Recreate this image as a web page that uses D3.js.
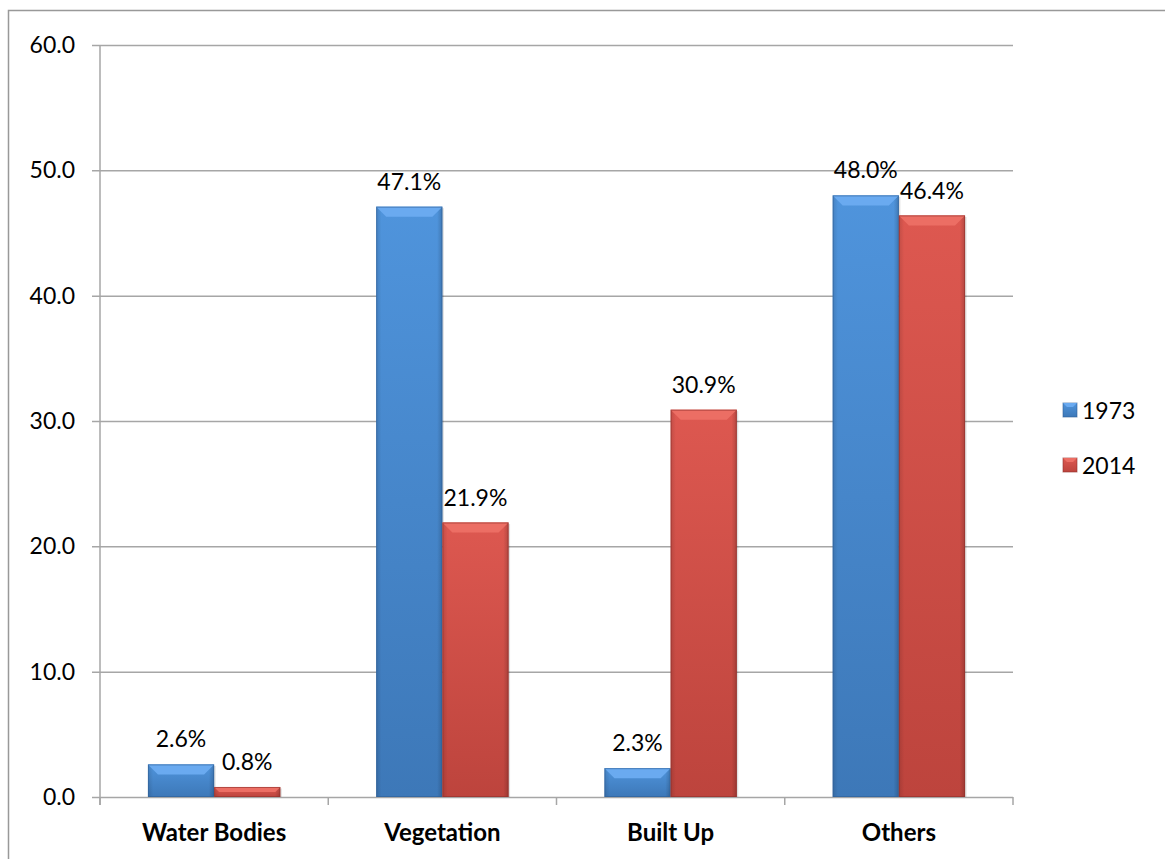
<!DOCTYPE html>
<html>
<head>
<meta charset="utf-8">
<script src="https://cdn.jsdelivr.net/npm/d3@7"></script>
<style>
    body { margin: 0; background: #fff; }
    svg text { font-family: Lato, "Open Sans", sans-serif; fill: #000; }
</style>
</head>
<body>
<div id="chart"></div>
<script>
// data
var categories = ["Water Bodies", "Vegetation", "Built Up", "Others"];
var seriesNames = ["1973", "2014"];
var values1973 = [2.6, 47.1, 2.3, 48.0];
var values2014 = [0.8, 21.9, 30.9, 46.4];
var yTicks = [0, 10, 20, 30, 40, 50, 60];

var W = 1165, H = 859;
var margin = {top: 45, left: 100, right: 152, bottom: 62};
var width = W - margin.left - margin.right;
var height = H - margin.top - margin.bottom;

var svg = d3.select("#chart").append("svg")
        .attr("width", W)
        .attr("height", H);

// outer frame (runs off the right and bottom edges)
svg.append("rect")
        .attr("x", 8.5).attr("y", 10.5)
        .attr("width", W).attr("height", H)
        .attr("fill", "none")
        .attr("stroke", "#999")
        .attr("stroke-width", 1.5);

var defs = svg.append("defs");
var palette = {
    "1973": {light: "#6aaaf0", mid: "#4f94dc", dark: "#3d78b8", edge: "#2f5f96"},
    "2014": {light: "#ec6e64", mid: "#dd5850", dark: "#bd443d", edge: "#8f302b"}
};
seriesNames.forEach(function(s) {
    var g = defs.append("linearGradient").attr("id", "grad" + s)
            .attr("x1", 0).attr("y1", 0).attr("x2", 0).attr("y2", 1);
    g.append("stop").attr("offset", "0%").attr("stop-color", palette[s].mid);
    g.append("stop").attr("offset", "100%").attr("stop-color", palette[s].dark);
    var side = defs.append("linearGradient").attr("id", "side" + s)
            .attr("x1", 0).attr("y1", 0).attr("x2", 1).attr("y2", 0);
    side.append("stop").attr("offset", "0%").attr("stop-color", "#000").attr("stop-opacity", 0.12);
    side.append("stop").attr("offset", "8%").attr("stop-color", "#000").attr("stop-opacity", 0);
    side.append("stop").attr("offset", "92%").attr("stop-color", "#000").attr("stop-opacity", 0);
    side.append("stop").attr("offset", "100%").attr("stop-color", "#000").attr("stop-opacity", 0.18);
});

var g = svg.append("g")
        .attr("transform", "translate(" + margin.left + "," + margin.top + ")");

var x0 = d3.scaleBand().domain(categories).range([0, width]).paddingInner(0).paddingOuter(0);
var x1 = d3.scaleBand().domain(seriesNames).range([x0.bandwidth() * 0.21, x0.bandwidth() * 0.79]);
var y = d3.scaleLinear().domain([0, 60]).range([height, 0]);

// gridlines
g.append("g")
        .attr("transform", "translate(-8,0)")
        .call(d3.axisLeft(y).tickValues(yTicks).tickSize(-width - 8).tickFormat(""))
        .call(function(s) {
            s.select(".domain").remove();
            s.selectAll("line").attr("stroke", "#a6a6a6").attr("stroke-width", 1.5);
        });

// y axis line
g.append("line")
        .attr("x1", 0).attr("x2", 0).attr("y1", 0).attr("y2", height + 8)
        .attr("stroke", "#a6a6a6").attr("stroke-width", 1.5);

// y tick labels
g.append("g").selectAll("text")
        .data(yTicks)
        .enter().append("text")
        .attr("x", -25)
        .attr("y", function(d) { return y(d); })
        .attr("dy", "0.35em")
        .attr("text-anchor", "end")
        .style("font-size", "23px")
        .text(function(d) { return d3.format(".1f")(d); });

// category ticks
var catEdges = categories.map(function(c) { return x0(c); }).concat([width]);
g.append("g").selectAll("line")
        .data(catEdges)
        .enter().append("line")
        .attr("x1", function(d) { return d; }).attr("x2", function(d) { return d; })
        .attr("y1", height).attr("y2", height + 8)
        .attr("stroke", "#a6a6a6").attr("stroke-width", 1.5);

// category labels
g.append("g").selectAll("text")
        .data(categories)
        .enter().append("text")
        .attr("x", function(d) { return x0(d) + x0.bandwidth() / 2; })
        .attr("y", height + 36)
        .attr("dy", "0.35em")
        .attr("text-anchor", "middle")
        .style("font-size", "24px")
        .style("font-weight", "bold")
        .text(function(d) { return d; });

// bars
var rows = [];
categories.forEach(function(c, i) {
    rows.push({cat: c, s: "1973", v: values1973[i]});
    rows.push({cat: c, s: "2014", v: values2014[i]});
});

var bars = g.append("g").selectAll("g.bar")
        .data(rows)
        .enter().append("g").attr("class", "bar");

bars.each(function(d) {
    var b = d3.select(this);
    var bx = x0(d.cat) + x1(d.s), bw = x1.bandwidth();
    var by = y(d.v), bh = height - y(d.v);
    var bev = Math.min(10, bh / 2);
    // soft shadow
    b.append("rect")
            .attr("x", bx + 1.5).attr("y", by + 1.5)
            .attr("width", bw).attr("height", bh - 1.5)
            .attr("fill", "#000").attr("opacity", 0.12);
    b.append("rect")
            .attr("x", bx).attr("y", by)
            .attr("width", bw).attr("height", bh)
            .attr("fill", "url(#grad" + d.s + ")");
    b.append("rect")
            .attr("x", bx).attr("y", by)
            .attr("width", bw).attr("height", bh)
            .attr("fill", "url(#side" + d.s + ")");
    // top bevel
    b.append("path")
            .attr("d", "M" + bx + "," + by + "L" + (bx + bw) + "," + by +
                    "L" + (bx + bw - bev) + "," + (by + bev) + "L" + (bx + bev) + "," + (by + bev) + "Z")
            .attr("fill", palette[d.s].light);
    b.append("rect")
            .attr("x", bx + 0.5).attr("y", by + 0.5)
            .attr("width", bw - 1).attr("height", bh - 1)
            .attr("fill", "none")
            .attr("stroke", palette[d.s].edge).attr("stroke-opacity", 0.6);
    // data label
    b.append("text")
            .attr("x", bx + bw / 2)
            .attr("y", by - 25)
            .attr("dy", "0.35em")
            .attr("text-anchor", "middle")
            .style("font-size", "23px")
            .text(d3.format(".1f")(d.v) + "%");
});

// legend
var legend = svg.append("g").selectAll("g")
        .data(seriesNames)
        .enter().append("g")
        .attr("transform", function(d, i) { return "translate(1063," + (403 + i * 55) + ")"; });

legend.append("rect")
        .attr("width", 14).attr("height", 14)
        .attr("fill", function(d) { return "url(#grad" + d + ")"; })
        .attr("stroke", function(d) { return palette[d].edge; }).attr("stroke-opacity", 0.6);
legend.append("path")
        .attr("d", "M0,0L14,0L10,4L4,4Z")
        .attr("fill", function(d) { return palette[d].light; });
legend.append("text")
        .attr("x", 19).attr("y", 8)
        .attr("dy", "0.35em")
        .style("font-size", "23px")
        .text(function(d) { return d; });
</script>
</body>
</html>
